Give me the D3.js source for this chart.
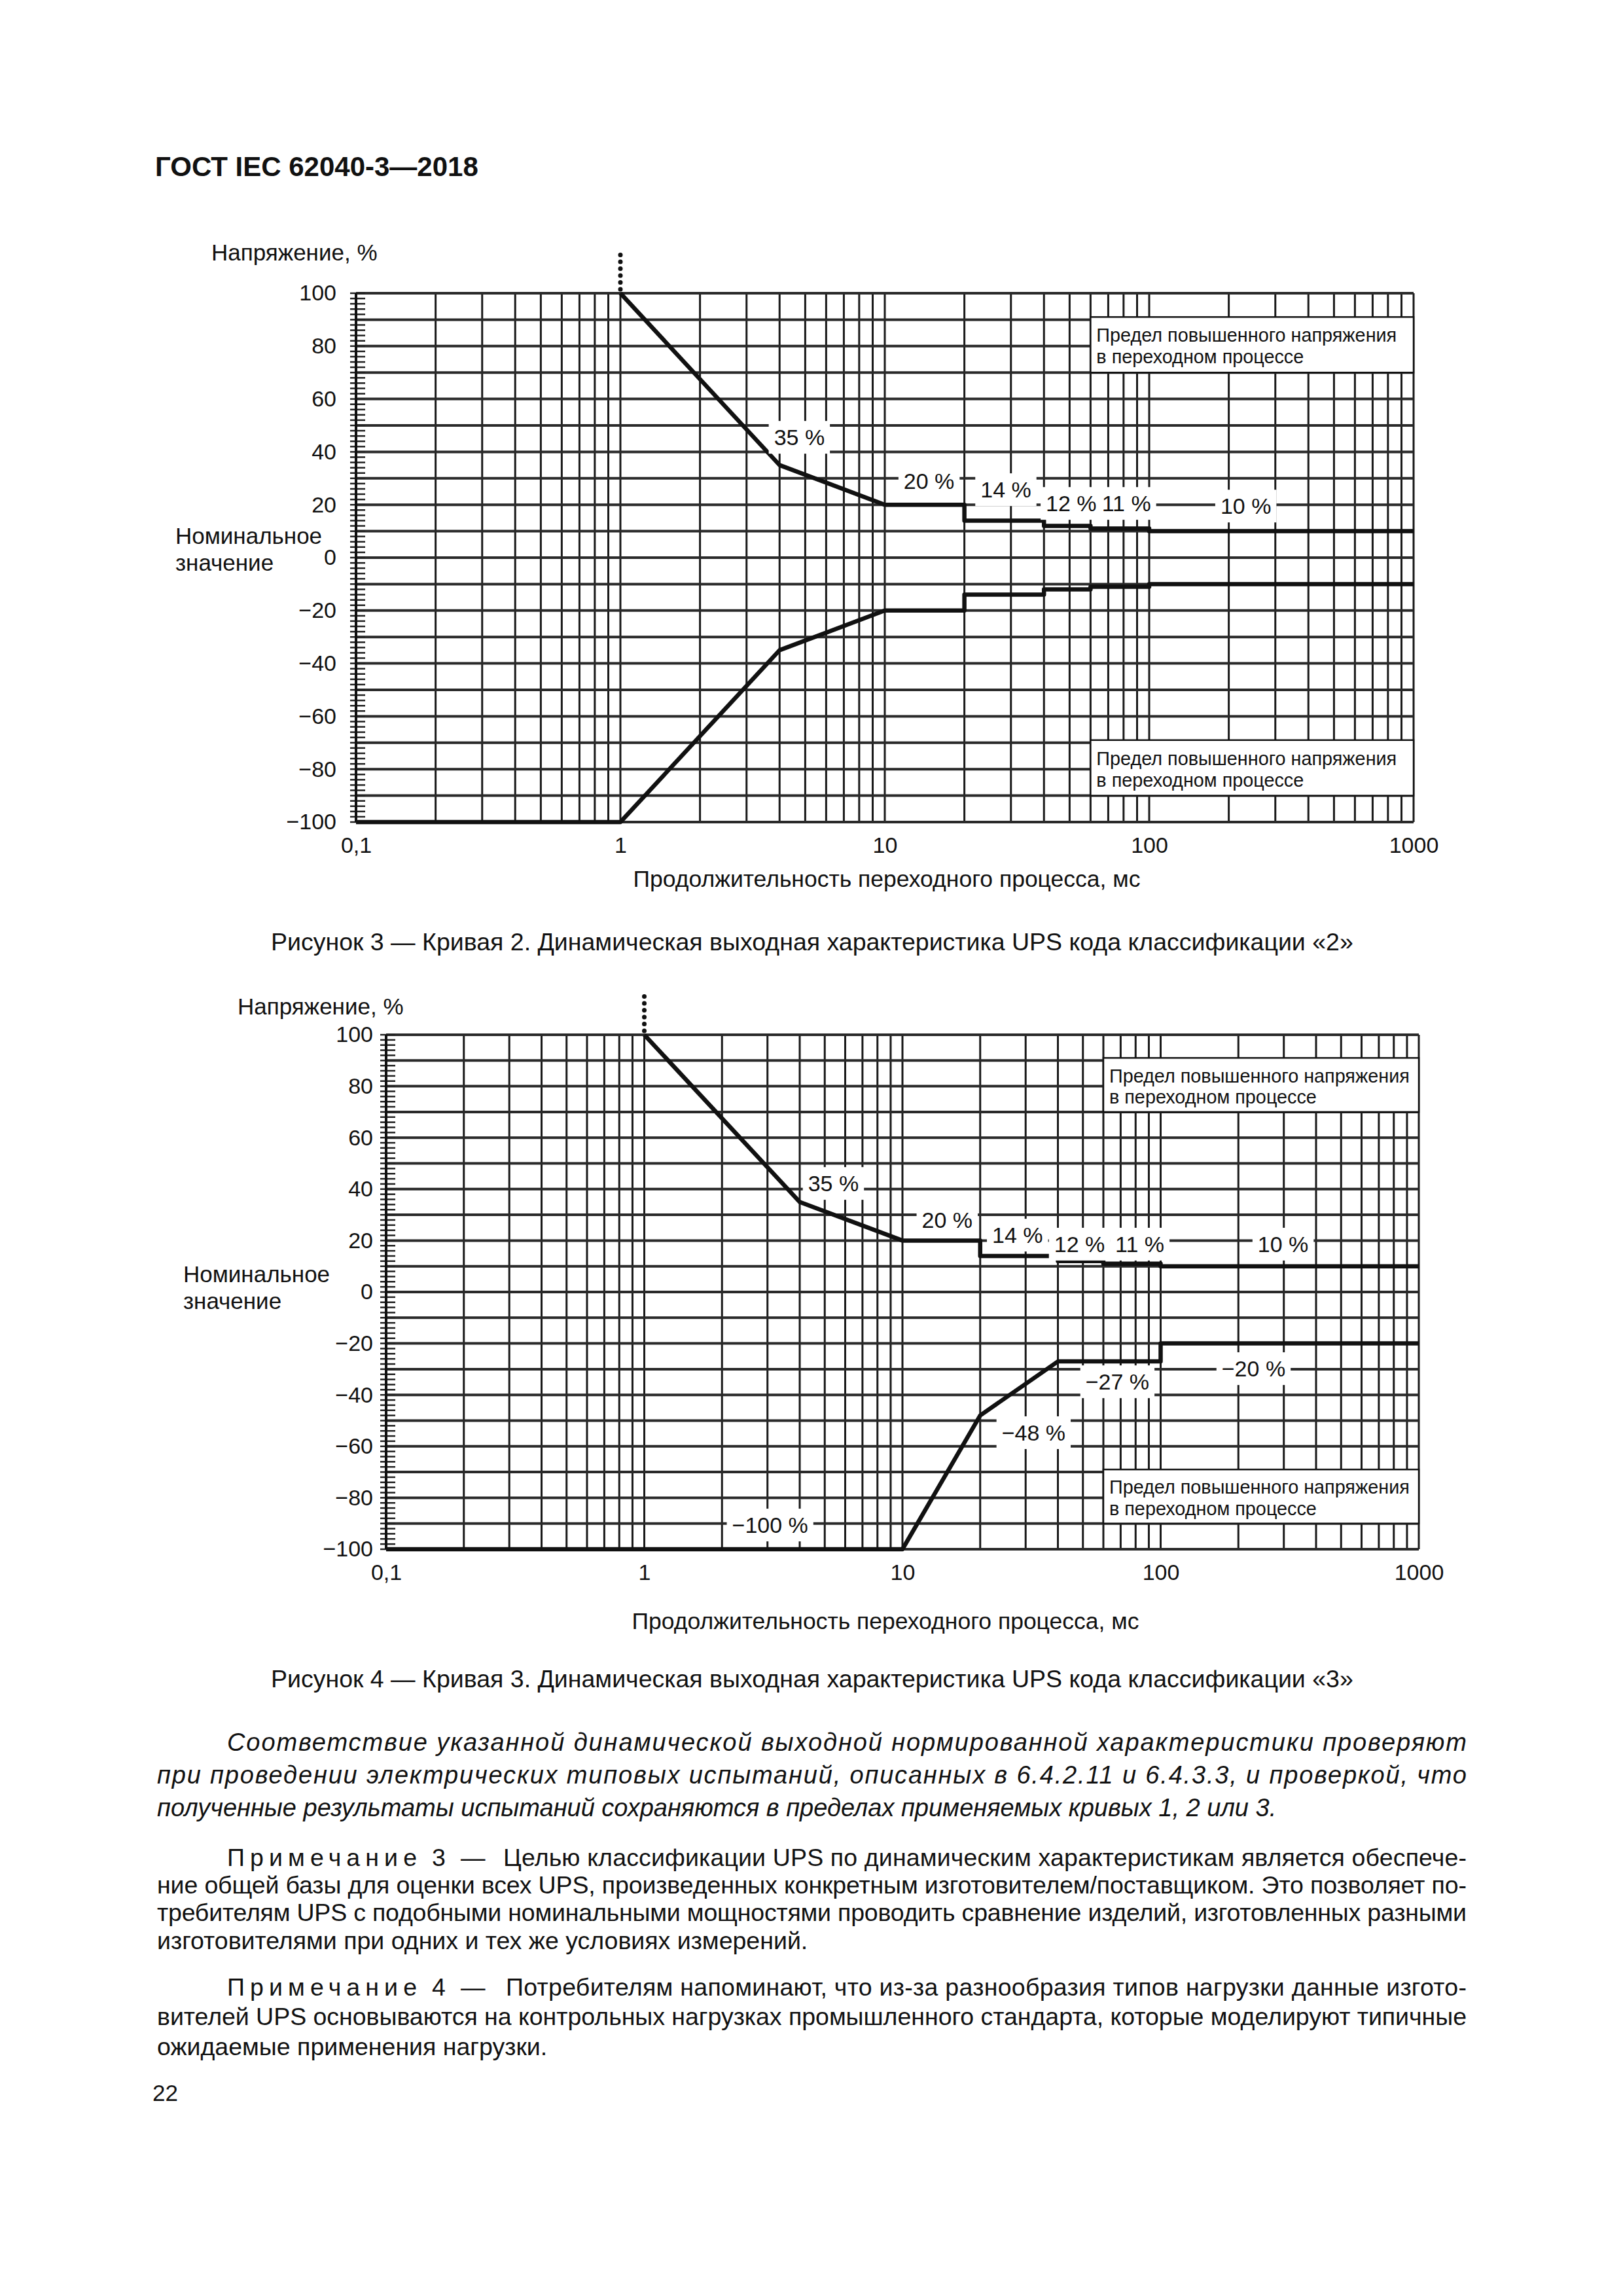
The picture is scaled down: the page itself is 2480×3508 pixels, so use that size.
<!DOCTYPE html>
<html>
<head>
<meta charset="utf-8">
<script src="https://cdn.jsdelivr.net/npm/d3@7"></script>
<style>
  body { margin: 0; background: #fff; }
  text { font-family: "Liberation Sans", Arial, sans-serif; fill: #111; }
</style>
</head>
<body>
<script>
// page: ГОСТ IEC 62040-3—2018, p. 22, figures 3 and 4

// axes
const xTicks = [0.1, 1, 10, 100, 1000];
const xTickLabels = ["0,1", "1", "10", "100", "1000"];
const yTicks = [100, 80, 60, 40, 20, 0, -20, -40, -60, -80, -100];
const yTickLabels = ["100", "80", "60", "40", "20", "0", "\u221220", "\u221240", "\u221260", "\u221280", "\u2212100"];

// curve 2 (figure 3), time in ms, voltage in %
const c2UpperT = [1, 4, 10, 20, 20, 40, 40, 60, 60, 100, 100, 1000];
const c2UpperV = [100, 35, 20, 20, 14, 14, 12, 12, 11, 11, 10, 10];
const c2LowerT = [0.1, 1, 4, 10, 20, 20, 40, 40, 60, 60, 100, 100, 1000];
const c2LowerV = [-100, -100, -35, -20, -20, -14, -14, -12, -12, -11, -11, -10, -10];
const c2Labels = ["35 %", "20 %", "14 %", "12 %", "11 %", "10 %"];
const c2LabelT = [4.75, 14.7, 28.7, 50.7, 82, 232];
const c2LabelV = [45.5, 29, 25.7, 20.5, 20.5, 19.5];

// curve 3 (figure 4)
const c3UpperT = [1, 4, 10, 20, 20, 40, 40, 60, 60, 100, 100, 1000];
const c3UpperV = [100, 35, 20, 20, 14, 14, 12, 12, 11, 11, 10, 10];
const c3LowerT = [0.1, 10, 20, 40, 100, 100, 1000];
const c3LowerV = [-100, -100, -48, -27, -27, -20, -20];
const c3Labels = ["35 %", "20 %", "14 %", "12 %", "11 %", "10 %", "\u221227 %", "\u221220 %", "\u221248 %", "\u2212100 %"];
const c3LabelT = [5.4, 14.9, 27.9, 48.5, 83, 298, 68, 229, 32.2, 3.07];
const c3LabelV = [42.2, 28, 22.1, 18.6, 18.6, 18.6, -34.9, -29.8, -54.7, -90.6];

// limit boxes (t from, t to, v top, v bottom)
const boxT = [60, 1000];
const boxUpperV = [91, 70];
const boxLowerV = [-69, -90];
const boxText = ["Предел повышенного напряжения", "в переходном процессе"];

const svg = d3.select("body").append("svg")
    .attr("width", 2480)
    .attr("height", 3508)
    .attr("viewBox", [0, 0, 2480, 3508]);

svg.append("rect").attr("width", 2480).attr("height", 3508).attr("fill", "#fff");

// header
svg.append("text")
    .attr("x", 237).attr("y", 254)
    .attr("dominant-baseline", "central")
    .attr("font-size", 42).attr("font-weight", "bold")
    .text("ГОСТ IEC 62040-3\u20142018");

function drawChart(cfg) {
  const g = svg.append("g");

  const x = d3.scaleLog().domain([0.1, 1000]).range([cfg.left, cfg.right]);
  const y = d3.scaleLinear().domain([-100, 100]).range([cfg.bottom, cfg.top]);

  // vertical grid, every 1..9 of each decade
  g.append("g").selectAll("line")
    .data(x.ticks())
    .join("line")
      .attr("x1", d => x(d)).attr("x2", d => x(d))
      .attr("y1", cfg.top).attr("y2", cfg.bottom)
      .attr("stroke", "#1a1a1a").attr("stroke-width", 3);

  // horizontal grid, every 10 %
  g.append("g").selectAll("line")
    .data(y.ticks(20))
    .join("line")
      .attr("x1", cfg.left).attr("x2", cfg.right)
      .attr("y1", d => y(d)).attr("y2", d => y(d))
      .attr("stroke", "#2a2a2a").attr("stroke-width", 4);

  // ruler on the left edge
  g.append("g").selectAll("line")
    .data(d3.range(-100, 101, 2))
    .join("line")
      .attr("x1", cfg.left - 9).attr("x2", cfg.left + 14)
      .attr("y1", d => y(d)).attr("y2", d => y(d))
      .attr("stroke", "#222").attr("stroke-width", 2.5);
  g.append("line")
    .attr("x1", cfg.left).attr("x2", cfg.left)
    .attr("y1", cfg.top).attr("y2", cfg.bottom)
    .attr("stroke", "#111").attr("stroke-width", 4);

  // limit boxes
  [boxUpperV, boxLowerV].forEach(v => {
    const bx = x(boxT[0]), by = y(v[0]);
    const bw = x(boxT[1]) - bx, bh = y(v[1]) - by;
    g.append("rect")
      .attr("x", bx).attr("y", by).attr("width", bw).attr("height", bh)
      .attr("fill", "#fff").attr("stroke", "#111").attr("stroke-width", 2.5);
    boxText.forEach((s, i) => {
      g.append("text")
        .attr("x", bx + 9).attr("y", by + bh * (i === 0 ? 0.33 : 0.72))
        .attr("dominant-baseline", "central")
        .attr("font-size", 28.8)
        .text(s);
    });
  });

  // curves
  const line = d3.line().x(d => x(d[0])).y(d => y(d[1]));
  [[cfg.upperT, cfg.upperV], [cfg.lowerT, cfg.lowerV]].forEach(([t, v]) => {
    g.append("path")
      .datum(t.map((d, i) => [d, v[i]]))
      .attr("d", line)
      .attr("fill", "none")
      .attr("stroke", "#111")
      .attr("stroke-width", 6.5)
      .attr("stroke-linejoin", "round");
  });

  // dotted start marker above 1 ms
  g.append("line")
    .attr("x1", x(1)).attr("x2", x(1))
    .attr("y1", y(100) - 6).attr("y2", y(115))
    .attr("stroke", "#111").attr("stroke-width", 7)
    .attr("stroke-linecap", "round")
    .attr("stroke-dasharray", "0 10.5");

  // percentage labels on white patches
  cfg.labels.forEach((s, i) => {
    const lg = g.append("g");
    const txt = lg.append("text")
      .attr("x", x(cfg.labelT[i])).attr("y", y(cfg.labelV[i]))
      .attr("text-anchor", "middle")
      .attr("dominant-baseline", "central")
      .attr("font-size", 34)
      .text(s);
    const bb = txt.node().getBBox();
    lg.insert("rect", "text")
      .attr("x", bb.x - 8).attr("y", bb.y - 6)
      .attr("width", bb.width + 16).attr("height", bb.height + 12)
      .attr("fill", "#fff");
  });

  // axes
  const ax = g.append("g")
    .attr("transform", `translate(0,${cfg.bottom})`)
    .call(d3.axisBottom(x).tickValues(xTicks).tickFormat((d, i) => xTickLabels[i]).tickSize(0).tickPadding(23));
  ax.select(".domain").remove();
  ax.selectAll("text").attr("font-size", 34).attr("fill", "#111")
    .attr("font-family", "Liberation Sans, Arial, sans-serif");

  const ay = g.append("g")
    .attr("transform", `translate(${cfg.left},0)`)
    .call(d3.axisLeft(y).tickValues(yTicks).tickFormat((d, i) => yTickLabels[i]).tickSize(0).tickPadding(cfg.yPad));
  ay.select(".domain").remove();
  ay.selectAll("text").attr("font-size", 34).attr("fill", "#111")
    .attr("font-family", "Liberation Sans, Arial, sans-serif");

  // axis titles
  g.append("text")
    .attr("x", cfg.yTitleX).attr("y", cfg.yTitleY)
    .attr("dominant-baseline", "central")
    .attr("font-size", 35)
    .text("Напряжение, %");
  g.append("text")
    .attr("x", cfg.nomX).attr("y", cfg.nomY)
    .attr("dominant-baseline", "central")
    .attr("font-size", 35)
    .text("Номинальное");
  g.append("text")
    .attr("x", cfg.nomX).attr("y", cfg.nomY + 41)
    .attr("dominant-baseline", "central")
    .attr("font-size", 35)
    .text("значение");
  g.append("text")
    .attr("x", cfg.xTitleX).attr("y", cfg.xTitleY)
    .attr("text-anchor", "middle")
    .attr("dominant-baseline", "central")
    .attr("font-size", 35.5)
    .text("Продолжительность переходного процесса, мс");

  // caption
  g.append("text")
    .attr("x", 414).attr("y", cfg.capY)
    .attr("dominant-baseline", "central")
    .attr("font-size", 37.5)
    .text(cfg.caption);
}

drawChart({
  left: 544, right: 2160, top: 448, bottom: 1256, yPad: 30,
  upperT: c2UpperT, upperV: c2UpperV, lowerT: c2LowerT, lowerV: c2LowerV,
  labels: c2Labels, labelT: c2LabelT, labelV: c2LabelV,
  yTitleX: 323, yTitleY: 385, nomX: 268, nomY: 818,
  xTitleX: 1355, xTitleY: 1343, capY: 1439,
  caption: "Рисунок 3 \u2014 Кривая 2. Динамическая выходная характеристика UPS кода классификации «2»"
});

drawChart({
  left: 590, right: 2168, top: 1581, bottom: 2367, yPad: 20,
  upperT: c3UpperT, upperV: c3UpperV, lowerT: c3LowerT, lowerV: c3LowerV,
  labels: c3Labels, labelT: c3LabelT, labelV: c3LabelV,
  yTitleX: 363, yTitleY: 1537, nomX: 280, nomY: 1946,
  xTitleX: 1353, xTitleY: 2477, capY: 2565,
  caption: "Рисунок 4 \u2014 Кривая 3. Динамическая выходная характеристика UPS кода классификации «3»"
});

// body text
const textLeft = 240, textRight = 2241, indent = 347;
const noteSize = 37.5;

function justLine(s, x0, y0, size, italic, justify) {
  const t = svg.append("text")
    .attr("x", x0).attr("y", y0)
    .attr("dominant-baseline", "central")
    .attr("font-size", size)
    .attr("font-style", italic ? "italic" : "normal")
    .text(s);
  if (justify) t.attr("textLength", textRight - x0).attr("lengthAdjust", "spacing");
  return t;
}

justLine("Соответствие указанной динамической выходной нормированной характеристики проверяют", indent, 2662, 38, true, true);
justLine("при проведении электрических типовых испытаний, описанных в 6.4.2.11 и 6.4.3.3, и проверкой, что", textLeft, 2712, 38, true, true);
justLine("полученные результаты испытаний сохраняются в пределах применяемых кривых 1, 2 или 3.", textLeft, 2762, 38, true, false);

function noteHead(n, y0) {
  svg.append("text")
    .attr("x", indent).attr("y", y0)
    .attr("dominant-baseline", "central")
    .attr("font-size", noteSize)
    .attr("textLength", 290).attr("lengthAdjust", "spacing")
    .text("Примечание");
  svg.append("text")
    .attr("x", 660).attr("y", y0)
    .attr("dominant-baseline", "central")
    .attr("font-size", noteSize)
    .text(n);
  svg.append("text")
    .attr("x", 704).attr("y", y0)
    .attr("dominant-baseline", "central")
    .attr("font-size", noteSize)
    .text("\u2014");
}

noteHead("3", 2838);
justLine("Целью классификации UPS по динамическим характеристикам является обеспече-", 769, 2838, noteSize, false, true);
justLine("ние общей базы для оценки всех UPS, произведенных конкретным изготовителем/поставщиком. Это позволяет по-", textLeft, 2880, noteSize, false, true);
justLine("требителям UPS с подобными номинальными мощностями проводить сравнение изделий, изготовленных разными", textLeft, 2922, noteSize, false, true);
justLine("изготовителями при одних и тех же условиях измерений.", textLeft, 2965, noteSize, false, false);

noteHead("4", 3036);
justLine("Потребителям напоминают, что из-за разнообразия типов нагрузки данные изгото-", 773, 3036, noteSize, false, true);
justLine("вителей UPS основываются на контрольных нагрузках промышленного стандарта, которые моделируют типичные", textLeft, 3081, noteSize, false, true);
justLine("ожидаемые применения нагрузки.", textLeft, 3127, noteSize, false, false);

svg.append("text")
    .attr("x", 233).attr("y", 3197)
    .attr("dominant-baseline", "central")
    .attr("font-size", 35)
    .text("22");
</script>
</body>
</html>
